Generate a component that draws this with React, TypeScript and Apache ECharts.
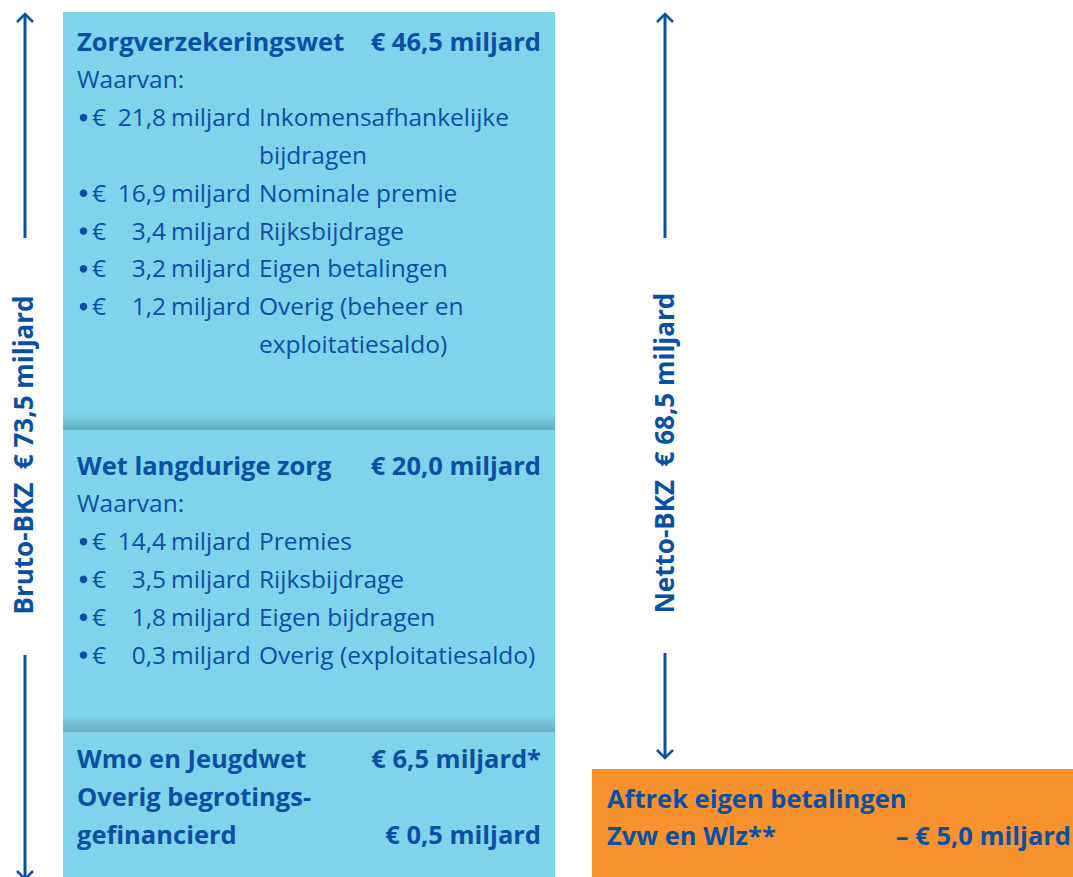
import React, { useEffect, useRef } from "react";
import * as echarts from "echarts";

// ---- data ----
const zvwTitle = "Zorgverzekeringswet";
const zvwTotal = "€ 46,5 miljard";
const zvwAmounts = ["21,8", "16,9", "3,4", "3,2", "1,2"];
const zvwLabels = [
  ["Inkomensafhankelijke", "bijdragen"],
  ["Nominale premie"],
  ["Rijksbijdrage"],
  ["Eigen betalingen"],
  ["Overig (beheer en", "exploitatiesaldo)"],
];

const wlzTitle = "Wet langdurige zorg";
const wlzTotal = "€ 20,0 miljard";
const wlzAmounts = ["14,4", "3,5", "1,8", "0,3"];
const wlzLabels = [["Premies"], ["Rijksbijdrage"], ["Eigen bijdragen"], ["Overig (exploitatiesaldo)"]];

const wmoLines = ["Wmo en Jeugdwet", "Overig begrotings-", "gefinancierd"];
const wmoValues = ["€ 6,5 miljard*", "", "€ 0,5 miljard"];

const aftrekLines = ["Aftrek eigen betalingen", "Zvw en Wlz**"];
const aftrekValues = ["", "– € 5,0 miljard"];

const brutoLabel = "Bruto-BKZ  € 73,5 miljard";
const nettoLabel = "Netto-BKZ  € 68,5 miljard";
const waarvan = "Waarvan:";

// ---- style ----
const BLUE_TEXT = "#0B4FA2";
const LIGHT = "#7FD3EB";
const ORANGE = "#F7922F";
const FF = "'Open Sans', Lato, sans-serif";
const BOLD = `bold 25.5px ${FF}`;
const VBOLD = `bold 26px ${FF}`;
const REG = `24.5px ${FF}`;
const LH = 37.8;

function txt(x: number, y: number, text: string, font: string, align = "left", extra: any = {}) {
  return {
    type: "text",
    x,
    y,
    silent: true,
    ...extra,
    style: {
      text,
      font,
      fill: BLUE_TEXT,
      textAlign: align,
      textVerticalAlign: "middle",
      align,
      verticalAlign: "middle",
    },
  };
}

function block(title: string, total: string, amounts: string[], labels: string[][], y0: number) {
  const els: any[] = [];
  els.push(txt(77, y0, title, BOLD));
  els.push(txt(541, y0, total, BOLD, "right"));
  let y = y0 + LH;
  els.push(txt(77, y, waarvan, REG));
  amounts.forEach((a, i) => {
    y += LH;
    els.push({ type: "circle", silent: true, shape: { cx: 83.5, cy: y + 1, r: 3.8 }, style: { fill: BLUE_TEXT } });
    els.push(txt(92, y, "€", REG));
    els.push(txt(166, y, a, REG, "right"));
    els.push(txt(171, y, "miljard", REG));
    labels[i].forEach((l, j) => {
      if (j > 0) y += LH;
      els.push(txt(259, y, l, REG));
    });
  });
  return els;
}

function arrowHead(x: number, y: number, dir: number) {
  return {
    type: "polyline",
    silent: true,
    shape: { points: [[x - 8, y + 8 * dir], [x, y], [x + 8, y + 8 * dir]] },
    style: { stroke: BLUE_TEXT, lineWidth: 2.5, fill: "none" },
  };
}
function vline(x: number, y1: number, y2: number) {
  return {
    type: "line",
    silent: true,
    shape: { x1: x, y1, x2: x, y2 },
    style: { stroke: BLUE_TEXT, lineWidth: 3 },
  };
}
function sep(y1: number, y2: number) {
  return {
    type: "rect",
    silent: true,
    shape: { x: 63, y: y1, width: 492, height: y2 - y1 },
    style: {
      fill: {
        type: "linear",
        x: 0,
        y: 0,
        x2: 0,
        y2: 1,
        colorStops: [
          { offset: 0, color: LIGHT },
          { offset: 1, color: "#63ADC4" },
        ],
      },
    },
  };
}

export default function App() {
  const ref = useRef<HTMLDivElement>(null);
  useEffect(() => {
    document.body.style.margin = "0";
    const chart = echarts.init(ref.current!, undefined, { renderer: "svg" });
    const els: any[] = [];
    els.push({ type: "rect", silent: true, shape: { x: 63, y: 12, width: 492, height: 865 }, style: { fill: LIGHT } });
    els.push(sep(413, 430));
    els.push(sep(716, 732));
    els.push({ type: "rect", silent: true, shape: { x: 592, y: 769, width: 481, height: 108 }, style: { fill: ORANGE } });

    els.push(...block(zvwTitle, zvwTotal, zvwAmounts, zvwLabels, 41));
    els.push(...block(wlzTitle, wlzTotal, wlzAmounts, wlzLabels, 465));

    const wmoY = [758, 796, 834];
    wmoLines.forEach((l, i) => {
      els.push(txt(77, wmoY[i], l, BOLD));
      if (wmoValues[i]) els.push(txt(541, wmoY[i], wmoValues[i], BOLD, "right"));
    });
    const afY = [798, 835];
    aftrekLines.forEach((l, i) => {
      els.push(txt(607, afY[i], l, BOLD));
      if (aftrekValues[i]) els.push(txt(1071, afY[i], aftrekValues[i], BOLD, "right"));
    });

    // arrows
    els.push(vline(25, 14, 238), arrowHead(25, 14, 1), vline(25, 655, 879), arrowHead(25, 879, -1));
    els.push(vline(665, 14, 238), arrowHead(665, 14, 1), vline(665, 653, 758), arrowHead(665, 758, -1));

    els.push(txt(23, 455, brutoLabel, VBOLD, "center", { rotation: Math.PI / 2 }));
    els.push(txt(664, 453, nettoLabel, VBOLD, "center", { rotation: Math.PI / 2 }));

    chart.setOption({ animation: false, graphic: { elements: els } });
    return () => chart.dispose();
  }, []);
  return <div ref={ref} style={{ width: 1073, height: 877 }} />;
}
